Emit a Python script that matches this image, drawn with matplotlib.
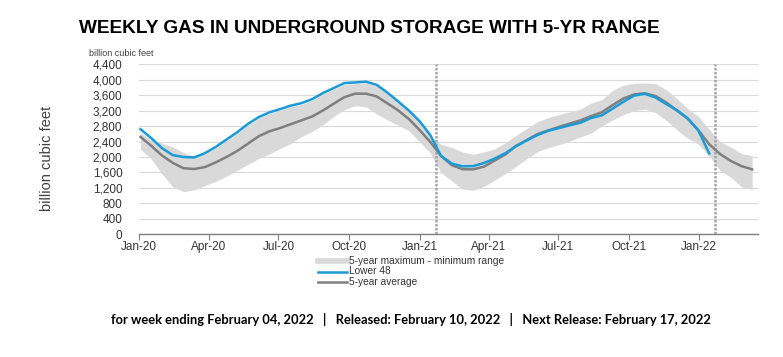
import numpy as np
import pandas as pd
import matplotlib
matplotlib.use("Agg")
import matplotlib.pyplot as plt
import matplotlib.dates as mdates
from matplotlib import font_manager as fm
from matplotlib.lines import Line2D

# weekly storage, every second week (bcf)
dates = pd.date_range("2020-01-03", periods=58, freq="14D")

lower48 = [2720, 2490, 2230, 2050, 2000, 1990, 2100, 2260, 2450, 2640,
           2855, 3030, 3155, 3240, 3330, 3395, 3500, 3655, 3785, 3915,
           3930, 3950, 3870, 3670, 3440, 3205, 2930, 2570, 2030, 1830,
           1760, 1765, 1845, 1960, 2100, 2280, 2430, 2570, 2680, 2750,
           2820, 2890, 3010, 3080, 3255, 3430, 3590, 3635, 3540, 3370,
           3210, 3000, 2680, 2090]

avg5 = [2520, 2290, 2040, 1850, 1710, 1690, 1740, 1860, 2000, 2155,
        2345, 2535, 2665, 2750, 2850, 2950, 3050, 3205, 3380, 3550,
        3640, 3640, 3570, 3390, 3210, 2985, 2700, 2390, 2030, 1790,
        1685, 1680, 1750, 1910, 2065, 2290, 2440, 2595, 2690, 2780,
        2865, 2950, 3060, 3160, 3345, 3515, 3620, 3650, 3580, 3410,
        3200, 2990, 2690, 2330, 2080, 1900, 1765, 1680]

max5 = [2640, 2440, 2360, 2260, 2120, 2000, 2080, 2230, 2420, 2610,
        2825, 3000, 3125, 3210, 3300, 3365, 3470, 3625, 3755, 3885,
        3900, 3920, 3840, 3640, 3410, 3175, 2900, 2545, 2330, 2250,
        2130, 2070, 2130, 2210, 2370, 2560, 2740, 2915, 3020, 3100,
        3170, 3240, 3400, 3485, 3725, 3860, 3910, 3915, 3900, 3740,
        3510, 3250, 3050, 2720, 2400, 2260, 2090, 2035]

min5 = [2200, 1950, 1560, 1230, 1100, 1150, 1260, 1370, 1500, 1650,
        1810, 1960, 2080, 2220, 2350, 2530, 2660, 2835, 3050, 3225,
        3330, 3300, 3120, 2960, 2830, 2680, 2400, 2100, 1600, 1380,
        1170, 1140, 1240, 1400, 1570, 1760, 1960, 2140, 2245, 2320,
        2410, 2520, 2620, 2810, 2960, 3095, 3200, 3240, 3150, 2950,
        2700, 2480, 2330, 2030, 1650, 1480, 1230, 1160]

marker_dates = ["2021-01-22", "2022-01-21"]
yticks = list(range(0, 4401, 400))

title = "WEEKLY GAS IN UNDERGROUND STORAGE WITH 5-YR RANGE"
footer = ("for week ending February 04, 2022   |   Released: February 10, 2022"
          "   |   Next Release: February 17, 2022")
legend_labels = ["5-year maximum - minimum range", "Lower 48", "5-year average"]

BLUE = "#1a9bd7"
GREY = "#7f7f7f"
BAND = "#d9d9d9"


def has_font(name):
    try:
        fm.findfont(fm.FontProperties(family=name), fallback_to_default=False)
        return True
    except ValueError:
        return False


def fit_width(txt, width_px, renderer):
    # shrink or grow a text's font so it spans width_px
    w = txt.get_window_extent(renderer).width
    txt.set_fontsize(txt.get_fontsize() * width_px / w)


narrow = "Liberation Sans Narrow" if has_font("Liberation Sans Narrow") else "Liberation Sans"
plt.rcParams["font.family"] = "Liberation Sans"

fig = plt.figure(figsize=(7.83, 3.57), dpi=100)
ax = fig.add_axes([139 / 783, 1 - 234.3 / 357, (758.3 - 139) / 783, (234.3 - 64.3) / 357])

dts = dates.to_numpy()
ax.fill_between(dts, min5, max5, color=BAND, lw=0, zorder=1)
ax.plot(dts, avg5, color=GREY, lw=1.8, zorder=3)
ax.plot(dts[:len(lower48)], lower48, color=BLUE, lw=1.8, zorder=4)
for d in marker_dates:
    ax.axvline(pd.Timestamp(d), color="#a6a6a6", lw=1.8, ls=(0, (1, 0.6)), zorder=2)

ax.set_xlim(pd.Timestamp("2020-01-01"), pd.Timestamp("2022-03-19"))
ax.set_ylim(0, 4400)
ax.set_yticks(yticks)
ax.set_yticklabels([f"{v:,}" for v in yticks])
ax.yaxis.grid(True, color="#d9d9d9", lw=0.8, zorder=0)
ax.set_axisbelow(True)

ax.xaxis.set_major_locator(mdates.MonthLocator(bymonth=[1, 4, 7, 10]))
ax.xaxis.set_major_formatter(mdates.DateFormatter("%b-%y"))

for s in ["top", "right", "left"]:
    ax.spines[s].set_visible(False)
ax.spines["bottom"].set_color("#808080")
ax.spines["bottom"].set_linewidth(1.0)
ax.tick_params(axis="y", length=0, pad=12, labelsize=8.5, labelcolor="#333333")
ax.tick_params(axis="x", direction="out", length=4, color="#808080",
               pad=1, labelsize=8.5, labelcolor="#333333")

t_title = fig.text(79 / 783, 1 - 33 / 357, title, fontsize=15, fontweight="bold",
                   family=narrow, ha="left", va="baseline", color="black")
fig.text(89 / 783, 1 - 53 / 357, "billion cubic feet", fontsize=6.5,
         color="#404040", ha="left", va="center")
fig.text(47 / 783, 1 - 158 / 357, "billion cubic feet", fontsize=10.5,
         color="#404040", rotation=90, ha="center", va="center")

# legend drawn by hand under the axis
handles = [(BAND, 4.0), (BLUE, 1.8), (GREY, 1.8)]
rows = [261.0, 271.5, 282.0]
for (c, lw), lab, y in zip(handles, legend_labels, rows):
    fig.add_artist(Line2D([318 / 783, 347 / 783], [1 - y / 357, 1 - y / 357],
                          color=c, lw=lw, transform=fig.transFigure))
    fig.text(349 / 783, 1 - y / 357, lab, fontsize=7.3, color="#333333",
             ha="left", va="center")

t_foot = fig.text(111 / 783, 1 - 320 / 357, footer, fontsize=9, fontweight="bold",
                  family="Lato", ha="left", va="center", color="black")

renderer = fig.canvas.get_renderer()
fit_width(t_title, 581, renderer)
fit_width(t_foot, 597, renderer)

fig.savefig("out.png", dpi=100)
